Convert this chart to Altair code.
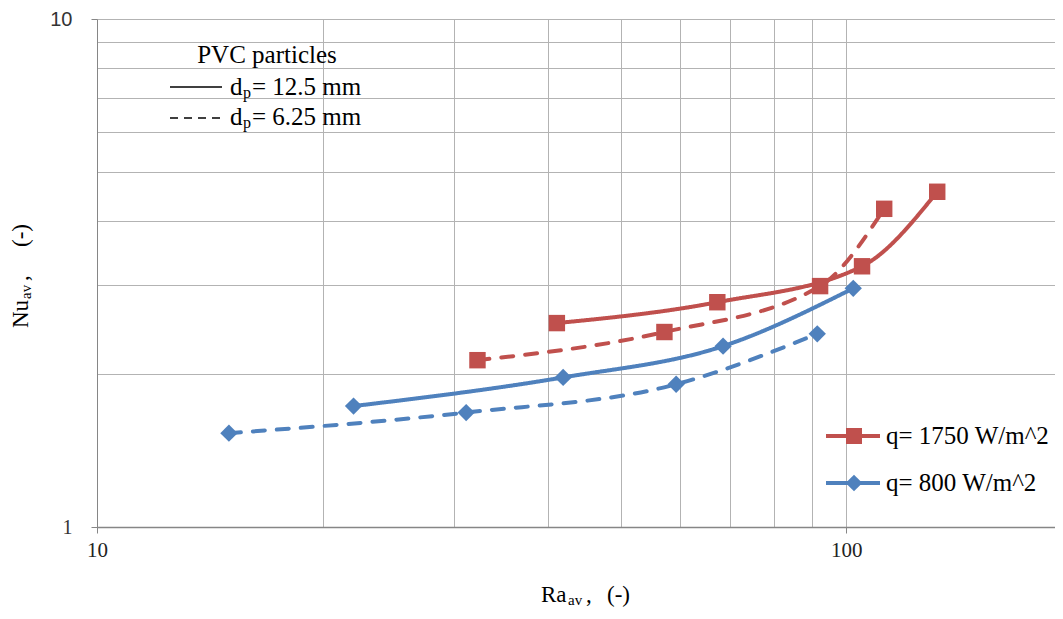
import altair as alt
import pandas as pd

# ---------------- data ----------------
ra_q1750_d125 = [41.1, 67.3, 105.0, 132.3]
nu_q1750_d125 = [2.52, 2.77, 3.26, 4.57]
ra_q1750_d625 = [32.2, 57.2, 92.3, 112.4]
nu_q1750_d625 = [2.13, 2.42, 2.98, 4.23]
ra_q800_d125 = [22.0, 41.9, 68.5, 102.2]
nu_q800_d125 = [1.73, 1.97, 2.27, 2.95]
ra_q800_d625 = [15.0, 31.1, 59.3, 91.5]
nu_q800_d625 = [1.53, 1.68, 1.91, 2.40]

q_labels = ["q= 1750 W/m^2", "q= 800 W/m^2"]
dp_labels = ["12.5 mm", "6.25 mm"]
x_grid = [10, 20, 30, 40, 50, 60, 70, 80, 90, 100]
y_grid = [1, 2, 3, 4, 5, 6, 7, 8, 9, 10]

series = [
    (ra_q1750_d125, nu_q1750_d125, q_labels[0], dp_labels[0]),
    (ra_q1750_d625, nu_q1750_d625, q_labels[0], dp_labels[1]),
    (ra_q800_d125, nu_q800_d125, q_labels[1], dp_labels[0]),
    (ra_q800_d625, nu_q800_d625, q_labels[1], dp_labels[1]),
]
rows = []
for i, (xs, ys, q, dp) in enumerate(series):
    for xv, yv in zip(xs, ys):
        rows.append({"ra": xv, "nu": yv, "q": q, "dp": dp, "series": i})
df = pd.DataFrame(rows)
one = pd.DataFrame({"k": [0]})

# ---------------- styling ----------------
W, H = 958, 508
TOP = 11         # svg top padding; plot top lands at page y = 8 + TOP
OX = 97          # page x of plot left
OY = 8 + TOP     # page y of plot top
RED, BLUE = "#C0504D", "#4F81BD"
SERIF = "Liberation Serif"
SANS = "Liberation Sans"
GRID = "#B3B3B3"
AXC = "#868686"

x_test = "datum.value == 10 || datum.value == 100"
y_test = "datum.value == 1 || datum.value == 10"

x_enc = alt.X(
    "ra:Q",
    scale=alt.Scale(type="log", domain=[10, 190], nice=False),
    axis=alt.Axis(
        values=x_grid, title=None, grid=True, gridColor=GRID, gridWidth=1,
        labelExpr="(" + x_test + ") ? datum.label : ''",
        labelFont=SERIF, labelFontSize=21, labelColor="#222222",
        labelFlush=False, labelOverlap=False, labelPadding=6,
        tickSize=6, tickColor=AXC,
        tickOpacity={"condition": {"test": x_test, "value": 1}, "value": 0},
        domainColor=AXC, domainWidth=1.5,
    ),
)
y_enc = alt.Y(
    "nu:Q",
    scale=alt.Scale(type="log", domain=[1, 10], nice=False),
    axis=alt.Axis(
        values=y_grid, title=None, grid=True, gridColor=GRID, gridWidth=1,
        labelExpr="(" + y_test + ") ? datum.label : ''",
        labelFont={"condition": {"test": "datum.value == 10", "value": SANS}, "value": SERIF},
        labelFontSize=20, labelColor="#333333",
        labelFlush=False, labelOverlap=False, labelPadding=19,
        tickSize=6, tickColor=AXC,
        tickOpacity={"condition": {"test": y_test, "value": 1}, "value": 0},
        domainColor=AXC, domainWidth=1,
    ),
)
color_scale = alt.Scale(domain=q_labels, range=[RED, BLUE])

lines = alt.Chart(df).mark_line(strokeWidth=4, interpolate="monotone", strokeCap="round").encode(
    x=x_enc, y=y_enc,
    color=alt.Color("q:N", scale=color_scale, legend=None),
    strokeDash=alt.StrokeDash("dp:N", scale=alt.Scale(domain=dp_labels, range=[[1, 0], [12, 12]]), legend=None),
    detail="series:N",
)

squares = alt.Chart(df).transform_filter(alt.datum.q == q_labels[0]).mark_point(
    shape="square", filled=True, size=270, opacity=1
).encode(x=x_enc, y=y_enc, color=alt.Color("q:N", scale=color_scale, legend=None))

diamonds = alt.Chart(df).transform_filter(alt.datum.q == q_labels[1]).mark_point(
    shape="diamond", filled=True, size=300, opacity=1
).encode(x=x_enc, y=y_enc, color=alt.Color("q:N", scale=color_scale, legend=None))


# helpers take page-pixel positions and convert them to plot-area pixels
def txt(s, px, py, size, font=SERIF, align="left", angle=0, color="black", baseline="alphabetic"):
    kw = dict(font=font, fontSize=size, align=align, baseline=baseline, color=color)
    if angle:
        kw["angle"] = angle
    return alt.Chart(one).mark_text(**kw).encode(
        x=alt.value(px - OX), y=alt.value(py - OY), text=alt.value(s))


def rule(px1, px2, py, color="black", width=1.3, dash=None):
    kw = dict(color=color, strokeWidth=width)
    if dash:
        kw["strokeDash"] = dash
    return alt.Chart(one).mark_rule(**kw).encode(
        x=alt.value(px1 - OX), x2=alt.value(px2 - OX), y=alt.value(py - OY))


def marker(px, py, shape, color, size):
    return alt.Chart(one).mark_point(shape=shape, filled=True, opacity=1, color=color, size=size).encode(
        x=alt.value(px - OX), y=alt.value(py - OY))


# series legend (bottom right)
legend_parts = []
for lab, col, shp, sz, ly in [(q_labels[0], RED, "square", 256, 436), (q_labels[1], BLUE, "diamond", 280, 483)]:
    legend_parts += [
        rule(826, 880, ly, color=col, width=4),
        marker(854, ly, shp, col, sz),
        txt(lab, 886, ly, 25, baseline="middle"),
    ]

annot = [
    txt("PVC particles", 267, 63, 25, align="center"),
    rule(170, 222, 87),
    txt("d", 230, 95, 25), txt("p", 243, 98, 16), txt("= 12.5 mm", 252, 95, 25),
    rule(170, 222, 118, dash=[8, 6]),
    txt("d", 230, 125, 25), txt("p", 243, 128, 16), txt("= 6.25 mm", 252, 125, 25),
    # x-axis title
    txt("Ra", 541, 602, 23), txt("av", 568, 605, 15), txt(",", 586, 602, 23), txt("(-)", 607, 602, 23),
    # y-axis title (rotated)
    txt("Nu", 28, 328, 23, angle=270), txt("av", 31, 299, 15, angle=270),
    txt(",", 28, 281, 23, angle=270), txt("(-)", 28, 247, 23, angle=270),
]

chart = alt.layer(lines, squares, diamonds, *legend_parts, *annot).properties(
    width=W, height=H,
    autosize=alt.AutoSizeParams(type="none"),
    padding={"left": OX - 8, "top": TOP, "right": 0, "bottom": 619 - 16 - TOP - H},
    background="white",
).configure_view(stroke=None)

chart.save("out.html", embed_options={"renderer": "svg", "actions": False})
